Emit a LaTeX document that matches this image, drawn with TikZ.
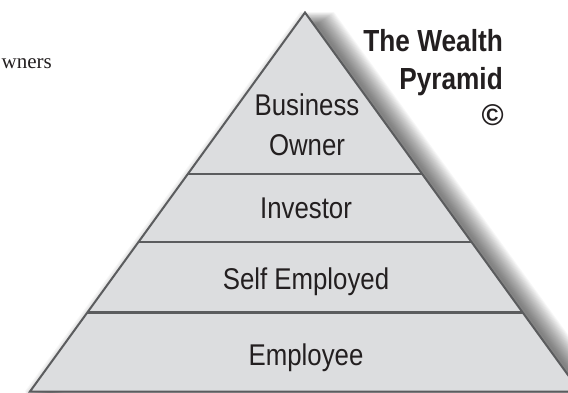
\documentclass[tikz,border=0pt]{standalone}
\usepackage{fontspec}
\setmainfont{Liberation Serif}
\newfontfamily\condfont[FakeStretch=0.86]{Liberation Sans}
\newfontfamily\plainsans{Liberation Sans}
\usetikzlibrary{calc}
\definecolor{pyrline}{HTML}{5B5C5E}
\definecolor{pyrfill}{HTML}{DCDDDF}
\definecolor{ink}{HTML}{231F20}
\tikzset{
  lbl/.style={inner sep=0pt, anchor=base, text=ink, font=\condfont\fontsize{30}{30}\selectfont},
  ttl/.style={inner sep=0pt, anchor=base east, text=ink, font=\condfont\bfseries\fontsize{30.5}{30.5}\selectfont},
  divider/.style={draw=pyrline, line width=2.3pt},
  outline/.style={draw=pyrline, fill=pyrfill, line width=2pt, line join=miter},
}
\begin{document}
\begin{tikzpicture}[x=1pt,y=-1pt]
\useasboundingbox (0,0) rectangle (568,392);
\clip (0,0) rectangle (568,392);
\coordinate (A) at (305,12.5);
\coordinate (L) at (30,391.5);
\coordinate (R) at (580,391.5);
\coordinate (As) at ($(A)+(12,12)$);
\coordinate (Ls) at ($(L)+(12,12)$);
\coordinate (Rs) at ($(R)+(12,12)$);
% soft shadow
\foreach \i in {1,...,21}{
  \draw[black, opacity=0.032, line width=2*\i pt, line join=bevel] (As) -- (Ls) -- (Rs) -- cycle;
}
% pyramid
\path[outline] (A) -- (L) -- (R) -- cycle;
\draw[divider] ($(A)!0.4267!(L)$) coordinate (d1l) -- ($(A)!0.4267!(R)$) coordinate (d1r);
\draw[divider] ($(A)!0.6063!(L)$) coordinate (d2l) -- ($(A)!0.6063!(R)$) coordinate (d2r);
\draw[divider] ($(A)!0.7913!(L)$) coordinate (d3l) -- ($(A)!0.7913!(R)$) coordinate (d3r);
% labels
\node[lbl] (bo1) at (307,115) {Business};
\node[lbl] (bo2) at (307,155) {Owner};
\node[lbl] (inv) at (306,218) {Investor};
\node[lbl] (se) at (306,289) {Self Employed};
\node[lbl] (emp) at (306,365) {Employee};
% title
\node[ttl] (t1) at (503,51) {The Wealth};
\node[ttl] (t2) at (503,89) {Pyramid};
\node[inner sep=0pt, anchor=base east, text=ink, font=\plainsans\bfseries\fontsize{30}{30}\selectfont] (t3) at (504,125) {©};
% cut-off text
\node[inner sep=0pt, anchor=base east, text=ink, font=\fontsize{21}{21}\selectfont] (w) at (52,68) {wners};
\end{tikzpicture}
\end{document}
